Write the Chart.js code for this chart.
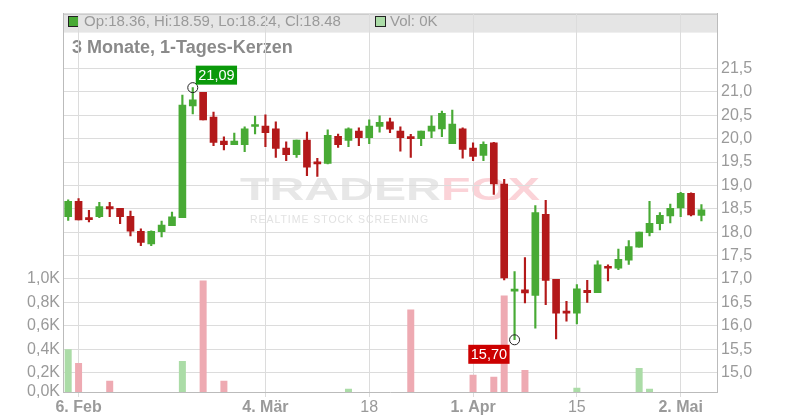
<!DOCTYPE html>
<html>
<head>
<meta charset="utf-8">
<script src="https://cdn.jsdelivr.net/npm/chart.js@4.4.1/dist/chart.umd.min.js"></script>
<style>
  body { margin: 0; background: #fff; }
  canvas { display: block; }
</style>
</head>
<body>
<canvas id="candleChart" width="800" height="420"></canvas>
<script>
// daily candles, 5. Feb - 6. Mai (trading days only)
var opens  = [18.33, 18.66, 18.29, 18.33, 18.55, 18.51, 18.34, 18.02, 17.75, 18.01,
              18.14, 18.31, 20.70, 20.99, 20.46, 19.95, 19.87, 19.87, 20.26, 20.27,
              20.21, 19.80, 19.66, 19.97, 19.50, 19.47, 20.05, 19.96, 20.16, 20.02,
              20.26, 20.36, 20.16, 20.04, 20.00, 20.16, 20.21, 19.89, 20.21, 19.80,
              19.64, 19.91, 19.03, 16.74, 16.77, 16.65, 18.38, 16.99, 16.29, 16.27,
              16.76, 16.71, 17.27, 17.23, 17.40, 17.68, 17.99, 18.18, 18.35, 18.52,
              18.83, 18.36];
var highs  = [18.69, 18.72, 18.47, 18.64, 18.64, 18.51, 18.45, 18.07, 18.03, 18.24,
              18.43, 20.93, 21.09, 20.99, 20.57, 20.04, 20.12, 20.25, 20.48, 20.51,
              20.36, 19.93, 19.97, 20.14, 19.58, 20.19, 20.10, 20.23, 20.23, 20.40,
              20.49, 20.44, 20.25, 20.09, 20.16, 20.49, 20.59, 20.61, 20.23, 19.91,
              19.93, 19.92, 19.13, 17.16, 17.46, 18.57, 18.68, 16.99, 16.52, 16.88,
              16.97, 17.39, 17.30, 17.64, 17.82, 18.00, 18.66, 18.42, 18.60, 18.85,
              18.84, 18.59];
var lows   = [18.25, 18.26, 18.22, 18.31, 18.33, 18.18, 17.92, 17.71, 17.71, 17.90,
              18.14, 18.31, 20.53, 20.40, 19.85, 19.76, 19.87, 19.72, 20.10, 19.83,
              19.60, 19.53, 19.60, 19.21, 19.19, 19.46, 19.81, 19.83, 19.85, 19.89,
              20.14, 20.13, 19.73, 19.60, 19.85, 20.02, 20.04, 19.89, 19.58, 19.53,
              19.53, 18.81, 16.98, 15.70, 16.49, 15.95, 16.45, 15.72, 16.10, 16.04,
              16.50, 16.71, 16.96, 17.20, 17.31, 17.68, 17.92, 18.05, 18.20, 18.33,
              18.35, 18.24];
var closes = [18.66, 18.26, 18.27, 18.55, 18.50, 18.33, 18.02, 17.78, 18.02, 18.15,
              18.33, 20.72, 20.83, 20.40, 19.92, 19.87, 19.95, 20.21, 20.30, 20.13,
              19.79, 19.66, 19.97, 19.39, 19.46, 20.07, 19.87, 20.21, 20.02, 20.27,
              20.35, 20.20, 20.02, 20.00, 20.16, 20.27, 20.54, 20.31, 19.77, 19.62,
              19.88, 19.03, 17.02, 16.76, 16.70, 18.42, 16.97, 16.27, 16.27, 16.79,
              16.71, 17.30, 17.23, 17.42, 17.69, 18.00, 18.19, 18.36, 18.51, 18.83,
              18.37, 18.48];
var volumes = [382, 260, 0, 0, 100, 0, 0, 0, 0, 0,
               0, 278, 0, 1000, 0, 100, 0, 0, 0, 0,
               0, 0, 0, 0, 0, 0, 0, 30, 0, 0,
               0, 0, 0, 740, 0, 0, 0, 0, 0, 154,
               0, 136, 865, 0, 198, 0, 0, 0, 0, 38,
               0, 0, 0, 0, 0, 216, 30, 0, 0, 0,
               0, 0];

var tickPos  = [1, 19, 29, 39, 49, 59];
var tickText = ['6. Feb', '4. Mär', '18', '1. Apr', '15', '2. Mai'];
var tickBold = [true, true, false, true, false, true];
var priceTickTop = 21.5;
var volGridPrices = [15.0, 15.5, 16.0, 16.5, 17.0];

var priceMin = 14.584, priceMax = 22.673, volMax = 3390;

var green = '#48aa35', red = '#b3191a';
var volGreen = '#abdca7', volRed = '#eeaab2';
var font = 'Liberation Sans, Arial, sans-serif';
var labelColor = '#9a9a9a';

var n = opens.length;
var bodies = [], wicks = [], vols = [], candleColors = [], volColors = [];
for (var i = 0; i < n; i++) {
    var up = closes[i] >= opens[i];
    bodies.push({ x: i, y: [opens[i], closes[i]] });
    wicks.push({ x: i, y: [lows[i], highs[i]] });
    vols.push({ x: i, y: volumes[i] });
    candleColors.push(up ? green : red);
    volColors.push(up ? volGreen : volRed);
}

var hiIdx = highs.indexOf(Math.max.apply(null, highs));
var loIdx = lows.indexOf(Math.min.apply(null, lows));

function comma(v, d) { return v.toFixed(d).replace('.', ','); }

var decor = {
    id: 'decor',
    beforeDraw: function (chart) {
        var ctx = chart.ctx, a = chart.chartArea;
        var cx = (a.left + a.right) / 2;
        ctx.save();

        // watermark
        ctx.font = 'bold 32px ' + font;
        ctx.textBaseline = 'alphabetic';
        var w1 = ctx.measureText('TRADER').width, w2 = ctx.measureText('FOX').width;
        ctx.save();
        ctx.translate(cx - 150, 200);
        ctx.scale(300 / (w1 + w2), 1);
        ctx.fillStyle = '#e7e7e7';
        ctx.fillText('TRADER', 0, 0);
        ctx.fillStyle = '#fbd3d8';
        ctx.fillText('FOX', w1, 0);
        ctx.restore();
        ctx.font = '10.5px ' + font;
        var sub = 'REALTIME STOCK SCREENING';
        var ws = ctx.measureText(sub).width;
        ctx.letterSpacing = ((178 - ws) / (sub.length - 1)).toFixed(2) + 'px';
        ctx.fillStyle = '#e2e2e2';
        ctx.fillText(sub, cx - 140, 223);
        ctx.letterSpacing = '0px';

        // header bar
        ctx.fillStyle = '#e5e5e5';
        ctx.fillRect(a.left, a.top, a.right - a.left, 19);
        ctx.strokeStyle = '#bbb';
        ctx.lineWidth = 1;
        ctx.beginPath();
        ctx.moveTo(a.left, a.top + 0.5);
        ctx.lineTo(a.right, a.top + 0.5);
        ctx.stroke();

        var last = n - 1;
        ctx.fillStyle = green;
        ctx.fillRect(a.left + 5.5, 16.5, 10, 10);
        ctx.strokeStyle = '#222';
        ctx.strokeRect(a.left + 5.5, 16.5, 10, 10);
        ctx.fillStyle = volGreen;
        ctx.fillRect(375.5, 16.5, 10, 10);
        ctx.strokeRect(375.5, 16.5, 10, 10);

        ctx.font = '15px ' + font;
        ctx.textBaseline = 'middle';
        ctx.fillStyle = labelColor;
        ctx.fillText('Op:' + opens[last].toFixed(2) + ', Hi:' + highs[last].toFixed(2) +
            ', Lo:' + lows[last].toFixed(2) + ', Cl:' + closes[last].toFixed(2), 84, 21.5);
        ctx.fillText('Vol: ' + Math.round(volumes[last] / 1000) + 'K', 390, 21.5);

        // title
        ctx.font = 'bold 18px ' + font;
        ctx.fillStyle = '#8a8a8a';
        ctx.fillText('3 Monate, 1-Tages-Kerzen', 72, 48);
        ctx.restore();
    },
    afterDatasetsDraw: function (chart) {
        var ctx = chart.ctx, xs = chart.scales.x, ys = chart.scales.yp;
        ctx.save();
        ctx.font = '14.5px ' + font;
        ctx.textBaseline = 'middle';
        ctx.textAlign = 'center';

        function mark(idx, val, bg, above) {
            var px = xs.getPixelForValue(idx), py = ys.getPixelForValue(val);
            ctx.strokeStyle = '#222';
            ctx.lineWidth = 1;
            ctx.beginPath();
            ctx.arc(px, py, 5, 0, Math.PI * 2);
            ctx.stroke();
            var txt = comma(val, 2);
            var w = ctx.measureText(txt).width + 5, h = 19;
            var bx = above ? px + 3 : px - 5 - w;
            var by = above ? py - 3 - h : py + 5;
            ctx.fillStyle = bg;
            ctx.fillRect(bx, by, w, h);
            ctx.fillStyle = '#fff';
            ctx.fillText(txt, bx + w / 2, by + h / 2 + 0.5);
        }
        mark(hiIdx, highs[hiIdx], '#0a990a', true);
        mark(loIdx, lows[loIdx], '#cc0000', false);
        ctx.restore();
    }
};

var ctxCandle = document.getElementById('candleChart').getContext('2d');
var candleChart = new Chart(ctxCandle, {
    type: 'bar',
    data: {
        datasets: [
            {
                label: 'Body',
                data: bodies,
                yAxisID: 'yp',
                backgroundColor: candleColors,
                barThickness: 7,
                minBarLength: 2,
                grouped: false,
                order: 1
            },
            {
                label: 'Wick',
                data: wicks,
                yAxisID: 'yp',
                backgroundColor: candleColors,
                barThickness: 1.5,
                grouped: false,
                order: 2
            },
            {
                label: 'Vol',
                data: vols,
                yAxisID: 'yv',
                backgroundColor: volColors,
                barThickness: 7,
                inflateAmount: 0,
                grouped: false,
                order: 3
            }
        ]
    },
    options: {
        responsive: false,
        animation: false,
        layout: { padding: { top: 11 } },
        plugins: {
            legend: { display: false },
            tooltip: { enabled: false }
        },
        scales: {
            x: {
                type: 'linear',
                min: -0.5,
                max: 62.5,
                offset: false,
                grid: { offset: false, color: '#dcdcdc', tickLength: 5 },
                border: { color: '#bbb' },
                afterBuildTicks: function (s) {
                    s.ticks = tickPos.map(function (v) { return { value: v }; });
                },
                afterFit: function (s) { s.height = 28; },
                ticks: {
                    autoSkip: false,
                    maxRotation: 0,
                    padding: 1,
                    color: labelColor,
                    font: function (c) {
                        return { family: font, size: 16, weight: tickBold[c.index] ? 'bold' : 'normal' };
                    },
                    callback: function (v) { return tickText[tickPos.indexOf(v)]; }
                }
            },
            yp: {
                type: 'linear',
                position: 'right',
                min: priceMin,
                max: priceMax,
                grid: { color: '#dcdcdc', drawTicks: false },
                border: { color: '#bbb' },
                afterBuildTicks: function (s) {
                    s.ticks = s.ticks.filter(function (t) { return t.value <= priceTickTop + 1e-6; });
                },
                afterFit: function (s) { s.width = 83; },
                ticks: {
                    stepSize: 0.5,
                    includeBounds: false,
                    padding: 4,
                    color: labelColor,
                    font: { family: font, size: 16 },
                    callback: function (v) { return comma(v, 1); }
                }
            },
            yv: {
                type: 'linear',
                position: 'left',
                min: 0,
                max: volMax,
                grid: { display: false, drawTicks: false },
                border: { color: '#bbb' },
                afterBuildTicks: function (s) {
                    var t = [{ value: 0 }];
                    volGridPrices.forEach(function (p) {
                        t.push({ value: (p - priceMin) / (priceMax - priceMin) * volMax });
                    });
                    s.ticks = t;
                },
                afterFit: function (s) { s.width = 63; },
                ticks: {
                    padding: 3,
                    color: labelColor,
                    font: { family: font, size: 16 },
                    callback: function (v) { return comma(v / 1000, 1) + 'K'; }
                }
            }
        }
    },
    plugins: [decor]
});
</script>
</body>
</html>
